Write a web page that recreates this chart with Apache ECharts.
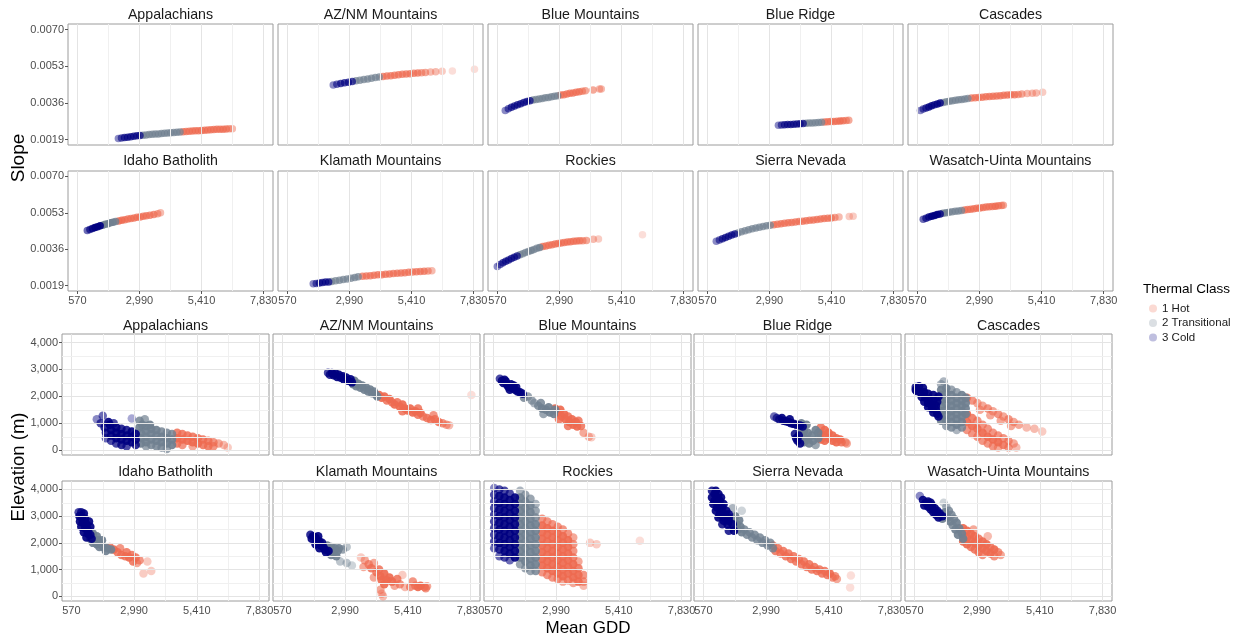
<!DOCTYPE html>
<html><head><meta charset="utf-8">
<script src="https://cdn.jsdelivr.net/npm/echarts@6.0.0/dist/echarts.min.js"></script>
<style>html,body{margin:0;padding:0;background:#fff}#c{width:1244px;height:641px}</style>
</head><body><div id="c"></div>
<script>
const regions = ['Appalachians','AZ/NM Mountains','Blue Mountains','Blue Ridge','Cascades','Idaho Batholith','Klamath Mountains','Rockies','Sierra Nevada','Wasatch-Uinta Mountains'];
const classNames = ['1 Hot','2 Transitional','3 Cold'];
const classColors = ['#EE6A50','#708090','#000080'];
const gddTicks = [570,2990,5410,7830];
const slopeTicks = [0.0019,0.0036,0.0053,0.0070];
const elevTicks = [0,1000,2000,3000,4000];

// [mean GDD, slope, thermal class]
const slopeAppalachians = [
[2170,0.00195,3],[2290,0.00197,3],[2410,0.00199,3],[2530,0.00201,3],[2650,0.00203,3],[2770,0.00205,3],[2890,0.00207,3],[3010,0.00209,3],
[3130,0.00210,2],[3250,0.00211,2],[3370,0.00213,2],[3490,0.00214,2],[3610,0.00215,2],[3730,0.00216,2],[3850,0.00218,2],[3970,0.00219,2],[4090,0.00220,2],[4210,0.00221,2],[4330,0.00222,2],[4450,0.00224,2],[4570,0.00225,2],
[4690,0.00226,1],[4810,0.00227,1],[4930,0.00228,1],[5050,0.00229,1],[5170,0.00230,1],[5290,0.00231,1],[5410,0.00232,1],[5530,0.00233,1],[5650,0.00234,1],[5770,0.00235,1],[5890,0.00236,1],[6010,0.00237,1],[6130,0.00237,1],[6250,0.00238,1],[6370,0.00239,1],[6490,0.00240,1],[6610,0.00240,1]];
const slopeAZNM = [
[2360,0.00443,3],[2500,0.00446,3],[2650,0.00450,3],[2800,0.00453,3],[2950,0.00456,3],[3100,0.00459,3],
[3250,0.00462,2],[3400,0.00465,2],[3550,0.00468,2],[3700,0.00471,2],[3850,0.00474,2],[4000,0.00477,2],[4150,0.00480,2],
[4300,0.00482,1],[4450,0.00484,1],[4600,0.00486,1],[4750,0.00488,1],[4900,0.00490,1],[5050,0.00492,1],[5200,0.00494,1],[5350,0.00495,1],[5500,0.00497,1],[5650,0.00498,1],[5800,0.00500,1],[5950,0.00501,1],[6150,0.00503,1],[6350,0.00504,1],[6600,0.00506,1],[7000,0.00508,1],[7860,0.00516,1]];
const slopeBlueMountains = [
[880,0.00325,3],[1000,0.00332,3],[1120,0.00339,3],[1240,0.00345,3],[1360,0.00351,3],[1480,0.00356,3],[1600,0.00361,3],[1720,0.00366,3],[1840,0.00370,3],
[1960,0.00373,2],[2080,0.00375,2],[2200,0.00378,2],[2320,0.00380,2],[2440,0.00383,2],[2560,0.00385,2],[2680,0.00388,2],[2800,0.00391,2],[2920,0.00393,2],
[3040,0.00396,1],[3160,0.00398,1],[3280,0.00401,1],[3400,0.00404,1],[3520,0.00406,1],[3640,0.00409,1],[3760,0.00411,1],[3880,0.00414,1],[4000,0.00416,1],[4300,0.00420,1],[4550,0.00424,1],[4620,0.00424,1]];
const slopeBlueRidge = [
[3340,0.00256,3],[3460,0.00257,3],[3580,0.00258,3],[3700,0.00259,3],[3820,0.00260,3],[3940,0.00261,3],[4060,0.00262,3],[4180,0.00263,3],[4300,0.00264,3],
[4420,0.00265,2],[4540,0.00266,2],[4660,0.00267,2],[4780,0.00268,2],[4900,0.00269,2],[5020,0.00270,2],
[5140,0.00271,1],[5260,0.00272,1],[5380,0.00273,1],[5500,0.00274,1],[5620,0.00275,1],[5740,0.00276,1],[5860,0.00277,1],[5980,0.00278,1],[6080,0.00279,1]];
const slopeCascades = [
[690,0.00325,3],[800,0.00331,3],[910,0.00336,3],[1020,0.00341,3],[1130,0.00346,3],[1240,0.00351,3],[1350,0.00355,3],[1460,0.00359,3],
[1580,0.00362,2],[1700,0.00365,2],[1820,0.00367,2],[1940,0.00370,2],[2060,0.00372,2],[2180,0.00374,2],[2300,0.00376,2],[2420,0.00378,2],[2540,0.00380,2],
[2680,0.00382,1],[2820,0.00383,1],[2960,0.00385,1],[3100,0.00386,1],[3240,0.00388,1],[3380,0.00389,1],[3520,0.00391,1],[3660,0.00392,1],[3800,0.00393,1],[3940,0.00395,1],[4080,0.00396,1],[4220,0.00397,1],[4360,0.00398,1],[4500,0.00399,1],[4640,0.00401,1],[4850,0.00403,1],[5050,0.00405,1],[5200,0.00406,1],[5450,0.00409,1]];
const slopeIdaho = [
[960,0.00447,3],[1060,0.00452,3],[1160,0.00457,3],[1260,0.00461,3],[1360,0.00465,3],[1460,0.00469,3],
[1560,0.00472,2],[1660,0.00476,2],[1760,0.00479,2],[1860,0.00483,2],[1960,0.00486,2],[2060,0.00489,2],
[2180,0.00492,1],[2300,0.00495,1],[2420,0.00498,1],[2540,0.00501,1],[2660,0.00503,1],[2780,0.00506,1],[2900,0.00509,1],[3020,0.00511,1],[3140,0.00514,1],[3260,0.00516,1],[3400,0.00519,1],[3550,0.00522,1],[3700,0.00526,1],[3810,0.00530,1]];
const slopeKlamath = [
[1580,0.00198,3],[1700,0.00200,3],[1820,0.00202,3],[1940,0.00204,3],[2060,0.00206,3],[2180,0.00207,3],
[2300,0.00209,2],[2450,0.00212,2],[2600,0.00215,2],[2750,0.00218,2],[2900,0.00221,2],[3050,0.00224,2],[3200,0.00228,2],[3330,0.00231,2],
[3500,0.00233,1],[3650,0.00235,1],[3800,0.00236,1],[3950,0.00238,1],[4100,0.00240,1],[4250,0.00241,1],[4400,0.00243,1],[4550,0.00244,1],[4700,0.00246,1],[4850,0.00247,1],[5000,0.00249,1],[5150,0.00250,1],[5300,0.00252,1],[5450,0.00253,1],[5600,0.00254,1],[5750,0.00256,1],[5900,0.00257,1],[6050,0.00258,1],[6200,0.00259,1]];
const slopeRockies = [
[570,0.00279,3],[680,0.00288,3],[790,0.00296,3],[900,0.00303,3],[1010,0.00310,3],[1120,0.00316,3],[1230,0.00322,3],[1340,0.00328,3],
[1450,0.00334,2],[1560,0.00339,2],[1670,0.00344,2],[1780,0.00349,2],[1890,0.00354,2],[2000,0.00359,2],[2110,0.00364,2],[2220,0.00368,2],
[2340,0.00372,1],[2460,0.00375,1],[2580,0.00378,1],[2700,0.00381,1],[2820,0.00384,1],[2940,0.00386,1],[3060,0.00389,1],[3180,0.00391,1],[3300,0.00393,1],[3420,0.00395,1],[3540,0.00397,1],[3660,0.00398,1],[3780,0.00399,1],[3900,0.00400,1],[4040,0.00401,1],[4310,0.00406,1],[4510,0.00408,1],[6225,0.00428,1]];
const slopeSierra = [
[920,0.00397,3],[1040,0.00403,3],[1160,0.00409,3],[1280,0.00415,3],[1400,0.00421,3],[1520,0.00426,3],[1640,0.00431,3],
[1760,0.00436,2],[1900,0.00441,2],[2040,0.00446,2],[2180,0.00451,2],[2320,0.00455,2],[2460,0.00459,2],[2600,0.00463,2],[2740,0.00466,2],[2880,0.00469,2],[3020,0.00472,2],
[3160,0.00474,1],[3300,0.00476,1],[3440,0.00479,1],[3580,0.00481,1],[3720,0.00483,1],[3860,0.00485,1],[4000,0.00487,1],[4140,0.00489,1],[4280,0.00491,1],[4420,0.00493,1],[4560,0.00495,1],[4700,0.00497,1],[4840,0.00499,1],[4980,0.00501,1],[5120,0.00503,1],[5260,0.00505,1],[5400,0.00506,1],[5540,0.00508,1],[5700,0.00510,1],[6100,0.00513,1],[6250,0.00514,1]];
const slopeWasatch = [
[800,0.00500,3],[910,0.00505,3],[1020,0.00510,3],[1130,0.00514,3],[1240,0.00518,3],[1350,0.00522,3],[1460,0.00525,3],
[1570,0.00528,2],[1690,0.00530,2],[1810,0.00533,2],[1930,0.00535,2],[2050,0.00537,2],[2170,0.00539,2],[2290,0.00541,2],
[2410,0.00543,1],[2530,0.00545,1],[2650,0.00547,1],[2770,0.00549,1],[2890,0.00551,1],[3010,0.00553,1],[3130,0.00555,1],[3250,0.00557,1],[3370,0.00558,1],[3490,0.00560,1],[3610,0.00561,1],[3730,0.00563,1],[3850,0.00564,1],[3920,0.00565,1]];

// [mean GDD, elevation m, thermal class]
const elevAppalachians = [
[1550,1150,3],[1780,1280,3],[1700,1000,3],[2900,1180,3],[1850,850,3],[1900,650,3],[1900,450,3],[2050,950,3],[2100,750,3],[2100,550,3],[2100,350,3],[2300,850,3],[2300,650,3],[2300,450,3],[2300,250,3],[2500,800,3],[2500,600,3],[2500,400,3],[2500,200,3],[2700,750,3],[2700,550,3],[2700,350,3],[2700,150,3],[2900,700,3],[2900,500,3],[2900,300,3],[3050,600,3],[3050,400,3],[3050,200,3],[2000,1050,3],[2200,1000,3],
[3200,1100,2],[3300,950,2],[3200,850,2],[3250,650,2],[3250,450,2],[3250,250,2],[3450,900,2],[3450,700,2],[3450,500,2],[3450,300,2],[3450,150,2],[3650,800,2],[3650,600,2],[3650,400,2],[3650,200,2],[3850,750,2],[3850,550,2],[3850,350,2],[3850,150,2],[4050,700,2],[4050,500,2],[4050,300,2],[4050,100,2],[4250,650,2],[4250,450,2],[4250,250,2],[4250,50,2],[4450,600,2],[4450,400,2],[4450,200,2],[3400,1150,2],[3600,950,2],
[4650,650,1],[4650,450,1],[4650,250,1],[4850,600,1],[4850,400,1],[4850,200,1],[5050,550,1],[5050,350,1],[5250,500,1],[5250,300,1],[5250,150,1],[5450,450,1],[5450,250,1],[5650,400,1],[5650,200,1],[5850,350,1],[5850,150,1],[6050,300,1],[6050,150,1],[6250,250,1],[6450,200,1],[6600,100,1]];
const elevAZNM = [
[2330,2880,3],[2400,2800,3],[2480,2870,3],[2550,2780,3],[2620,2850,3],[2680,2720,3],[2750,2800,3],[2820,2690,3],[2900,2750,3],[2950,2620,3],[3030,2700,3],[3100,2580,3],[3200,2640,3],[3250,2520,3],
[3300,2450,2],[3350,2580,2],[3420,2380,2],[3500,2470,2],[3580,2320,2],[3650,2400,2],[3730,2250,2],[3800,2330,2],[3880,2180,2],[3950,2260,2],[4030,2120,2],[4100,2180,2],[4180,2060,2],[4230,2000,2],
[4300,2050,1],[4400,1950,1],[4500,2000,1],[4600,1850,1],[4700,1900,1],[4800,1780,1],[4900,1700,1],[5000,1780,1],[5100,1620,1],[5200,1700,1],[5300,1550,1],[5400,1480,1],[5500,1550,1],[5600,1400,1],[5700,1450,1],[5800,1320,1],[5900,1380,1],[6000,1250,1],[6150,1200,1],[6300,1120,1],[6450,1150,1],[6600,1050,1],[6750,1000,1],[6900,950,1],[7000,930,1],[7860,2050,1],[5200,1450,1],[5800,1550,1],[6400,1300,1]];
const elevBlueMountains = [
[820,2650,3],[900,2580,3],[950,2500,3],[1050,2550,3],[1100,2420,3],[1150,2350,3],[1250,2450,3],[1300,2300,3],[1400,2250,3],[1450,2350,3],[1500,2180,3],[1600,2150,3],[1700,2100,3],[1350,2400,3],[1000,2620,3],[1200,2250,3],
[1750,1950,2],[1900,2000,2],[2050,1850,2],[2150,1750,2],[2300,1650,2],[2400,1750,2],[2450,1550,2],[2600,1500,2],[2700,1600,2],[2750,1400,2],[2900,1350,2],[2950,1500,2],[2500,1350,2],
[2950,1550,1],[3050,1400,1],[3150,1500,1],[3200,1250,1],[3300,1350,1],[3350,1150,1],[3450,1250,1],[3500,1050,1],[3600,1150,1],[3650,950,1],[3750,1050,1],[3800,880,1],[3950,900,1],[3850,1100,1],[3100,1150,1],[3450,900,1],[4050,650,1],[4250,500,1],[4350,480,1]];
const elevBlueRidge = [
[3300,1250,3],[3400,1200,3],[3500,1150,3],[3600,1200,3],[3650,1100,3],[3750,1080,3],[3850,1050,3],[3950,1000,3],[4050,980,3],[4150,950,3],[4300,920,3],[4400,880,3],[4100,600,3],[4150,450,3],[4200,350,3],[4250,550,3],[3900,1150,3],[4300,250,3],
[4350,800,2],[4450,700,2],[4400,550,2],[4500,450,2],[4450,300,2],[4600,650,2],[4600,400,2],[4650,250,2],[4750,550,2],[4800,350,2],[4900,750,2],[4900,200,2],[5000,450,2],[5000,650,2],[4350,1000,2],[4550,950,2],
[5100,850,1],[5100,600,1],[5100,400,1],[5250,750,1],[5250,550,1],[5250,350,1],[5400,650,1],[5400,450,1],[5550,550,1],[5550,350,1],[5700,450,1],[5700,300,1],[5850,400,1],[5900,300,1],[6050,300,1],[6100,250,1]];
const elevCascades = [
[620,2350,3],[750,2380,3],[900,2320,3],[650,2200,3],[800,2150,3],[950,2150,3],[1100,2100,3],[620,2250,3],[850,1980,3],[1000,1950,3],[1150,1900,3],[1300,1850,3],[950,1800,3],[1100,1750,3],[1250,1700,3],[1400,1650,3],[1100,1600,3],[1250,1550,3],[1400,1500,3],[1300,1400,3],[1450,1350,3],[1450,1800,3],[1500,2000,3],[1300,2050,3],[1500,1250,3],
[1600,2450,2],[1600,2250,2],[1600,2050,2],[1600,1850,2],[1600,1650,2],[1600,1450,2],[1600,1250,2],[1600,1100,2],
[1800,2300,2],[1800,2100,2],[1800,1900,2],[1800,1700,2],[1800,1500,2],[1800,1300,2],[1800,1100,2],[1800,900,2],
[2000,2250,2],[2000,2050,2],[2000,1850,2],[2000,1650,2],[2000,1450,2],[2000,1250,2],[2000,1050,2],[2000,850,2],
[2200,2150,2],[2200,1950,2],[2200,1750,2],[2200,1550,2],[2200,1350,2],[2200,1150,2],[2200,950,2],[2200,750,2],
[2400,2050,2],[2400,1850,2],[2400,1650,2],[2400,1450,2],[2400,1250,2],[2400,1050,2],[2400,850,2],
[2550,1950,2],[2550,1750,2],[2550,1550,2],[2550,1350,2],[1700,2550,2],
[2600,1950,1],[2800,1850,1],[3000,1750,1],[3200,1650,1],[3400,1550,1],[3600,1450,1],[3800,1350,1],[4000,1250,1],[4200,1150,1],[4400,1050,1],[4600,950,1],[4900,850,1],[5200,800,1],[5500,700,1],[3100,1500,1],[3500,1300,1],[3900,1100,1],[4300,900,1],
[2600,1350,1],[2600,1050,1],[2600,750,1],[2800,1200,1],[2800,900,1],[2800,600,1],[3000,1100,1],[3000,800,1],[3000,500,1],[3200,950,1],[3200,650,1],[3200,350,1],[3400,800,1],[3400,500,1],[3400,250,1],[3600,650,1],[3600,400,1],[3600,150,1],[3800,550,1],[3800,300,1],[3800,100,1],[4000,450,1],[4000,200,1],[4200,350,1],[4200,100,1],[4400,250,1],[4500,100,1]];
const elevIdaho = [
[850,3150,3],[950,3150,3],[1050,3100,3],[880,3000,3],[980,2950,3],[1100,2900,3],[900,2800,3],[1000,2750,3],[1150,2700,3],[950,2600,3],[1100,2550,3],[1200,2500,3],[1050,2400,3],[1200,2350,3],[1300,2300,3],[1150,2200,3],[1350,2150,3],[1250,2800,3],[1300,2600,3],
[1250,2300,2],[1400,2350,2],[1300,2150,2],[1450,2150,2],[1600,2100,2],[1400,2000,2],[1550,1950,2],[1700,1950,2],[1650,1850,2],[1800,1850,2],[1950,1800,2],[1900,1700,2],[2100,1750,2],[1550,2250,2],[1750,2100,2],
[2050,1850,1],[2200,1750,1],[2350,1650,1],[2450,1800,1],[2500,1550,1],[2650,1500,1],[2700,1650,1],[2800,1450,1],[2900,1550,1],[2950,1300,1],[3050,1450,1],[3100,1250,1],[3200,1350,1],[3350,850,1],[3650,950,1],[3500,1300,1]];
const elevKlamath = [
[1650,2300,3],[1750,2250,3],[1850,2200,3],[1700,2150,3],[1900,2100,3],[2000,2050,3],[1850,1950,3],[2050,1900,3],[2150,1850,3],[2000,1800,3],[2200,1750,3],[2350,1700,3],[2250,1650,3],[1950,2250,3],[2100,2000,3],
[2300,1900,2],[2450,1850,2],[2600,1800,2],[2750,1800,2],[2400,1750,2],[2550,1650,2],[2700,1700,2],[2900,1750,2],[3050,1850,2],[2800,1300,2],[3050,1250,2],[3250,1150,2],[2450,1550,2],[2650,1500,2],
[3600,1450,1],[3750,1350,1],[3900,1200,1],[3700,1100,1],[4000,1050,1],[4100,1250,1],[4200,900,1],[4300,1000,1],[4100,700,1],[4350,750,1],[4500,850,1],[4400,600,1],[4600,600,1],[4700,700,1],[4500,450,1],[4800,550,1],[4900,400,1],[5100,450,1],[5300,350,1],[5000,650,1],[4350,250,1],[4400,100,1],[4450,0,1],[5500,350,1],[5700,400,1],[5800,350,1],[5900,400,1],[5200,800,1],[5600,550,1],[6050,350,1],[6150,380,1],[6100,300,1]];
const elevRockies = [
[600,4050,3],[600,3800,3],[600,3550,3],[600,3300,3],[600,3050,3],[600,2800,3],[600,2550,3],[600,2300,3],[600,2050,3],[600,1800,3],
[800,4000,3],[800,3750,3],[800,3500,3],[800,3250,3],[800,3000,3],[800,2750,3],[800,2500,3],[800,2250,3],[800,2000,3],[800,1750,3],[800,1500,3],
[1000,3950,3],[1000,3700,3],[1000,3450,3],[1000,3200,3],[1000,2950,3],[1000,2700,3],[1000,2450,3],[1000,2200,3],[1000,1950,3],[1000,1700,3],[1000,1450,3],
[1200,3850,3],[1200,3600,3],[1200,3350,3],[1200,3100,3],[1200,2850,3],[1200,2600,3],[1200,2350,3],[1200,2100,3],[1200,1850,3],[1200,1600,3],[1200,1350,3],
[1400,3700,3],[1400,3450,3],[1400,3200,3],[1400,2950,3],[1400,2700,3],[1400,2450,3],[1400,2200,3],[1400,1950,3],[1400,1700,3],[1400,1450,3],
[1600,3950,2],[1600,3700,2],[1600,3450,2],[1600,3200,2],[1600,2950,2],[1600,2700,2],[1600,2450,2],[1600,2200,2],[1600,1950,2],[1600,1700,2],[1600,1450,2],[1600,1200,2],
[1800,3800,2],[1800,3550,2],[1800,3300,2],[1800,3050,2],[1800,2800,2],[1800,2550,2],[1800,2300,2],[1800,2050,2],[1800,1800,2],[1800,1550,2],[1800,1300,2],[1800,1050,2],
[2000,3650,2],[2000,3400,2],[2000,3150,2],[2000,2900,2],[2000,2650,2],[2000,2400,2],[2000,2150,2],[2000,1900,2],[2000,1650,2],[2000,1400,2],[2000,1150,2],[2000,950,2],
[2200,3450,2],[2200,3200,2],[2200,2950,2],[2200,2700,2],[2200,2450,2],[2200,2200,2],[2200,1950,2],[2200,1700,2],[2200,1450,2],[2200,1200,2],[2200,950,2],
[2450,2900,1],[2450,2650,1],[2450,2400,1],[2450,2150,1],[2450,1900,1],[2450,1650,1],[2450,1400,1],[2450,1150,1],[2450,900,1],
[2650,2800,1],[2650,2550,1],[2650,2300,1],[2650,2050,1],[2650,1800,1],[2650,1550,1],[2650,1300,1],[2650,1050,1],[2650,800,1],
[2850,2700,1],[2850,2450,1],[2850,2200,1],[2850,1950,1],[2850,1700,1],[2850,1450,1],[2850,1200,1],[2850,950,1],[2850,700,1],
[3050,2600,1],[3050,2350,1],[3050,2100,1],[3050,1850,1],[3050,1600,1],[3050,1350,1],[3050,1100,1],[3050,850,1],[3050,650,1],
[3250,2500,1],[3250,2250,1],[3250,2000,1],[3250,1750,1],[3250,1500,1],[3250,1250,1],[3250,1000,1],[3250,750,1],[3250,550,1],
[3450,2350,1],[3450,2100,1],[3450,1850,1],[3450,1600,1],[3450,1350,1],[3450,1100,1],[3450,850,1],[3450,600,1],
[3650,2200,1],[3650,1950,1],[3650,1700,1],[3650,1450,1],[3650,1200,1],[3650,950,1],[3650,700,1],[3650,500,1],
[3850,1300,1],[3850,1050,1],[3850,800,1],[3850,550,1],[4050,800,1],[4050,550,1],[4050,400,1],
[4300,2000,1],[4550,1950,1],[6220,2080,1]];
const elevSierra = [
[900,3950,3],[1050,3950,3],[900,3700,3],[1100,3700,3],[1250,3700,3],[950,3450,3],[1150,3450,3],[1350,3450,3],[1050,3200,3],[1250,3200,3],[1450,3200,3],[1150,2950,3],[1350,2950,3],[1550,2950,3],[1300,2700,3],[1500,2700,3],[1700,2700,3],[1550,2450,3],[1750,2450,3],
[1000,3825,3],[1150,3825,3],[1000,3575,3],[1200,3575,3],[1100,3325,3],[1300,3325,3],[1200,3075,3],[1400,3075,3],[1550,3075,3],[1350,2825,3],[1550,2825,3],
[1650,2750,2],[1750,2600,2],[1850,2700,2],[1900,2500,2],[2000,2600,2],[2050,2400,2],[2150,2500,2],[2250,2300,2],[2350,2400,2],[2450,2200,2],[2550,2300,2],[2650,2100,2],[2750,2200,2],[2850,2000,2],[2950,2100,2],[3050,1900,2],[3150,2000,2],[3250,1800,2],[1700,3300,2],[1800,3000,2],[2050,3200,2],[1950,2850,2],
[3250,1900,1],[3350,1700,1],[3450,1800,1],[3550,1600,1],[3650,1700,1],[3750,1500,1],[3850,1600,1],[3950,1400,1],[4050,1500,1],[4150,1300,1],[4250,1400,1],[4350,1200,1],[4450,1300,1],[4550,1100,1],[4650,1200,1],[4750,1000,1],[4850,1100,1],[4950,950,1],[5050,1000,1],[5150,850,1],[5250,950,1],[5350,800,1],[5450,850,1],[5550,700,1],[5650,750,1],[5720,650,1],[6260,780,1],[6230,330,1]];
const elevWasatch = [
[780,3750,3],[900,3600,3],[1000,3500,3],[1100,3550,3],[950,3400,3],[1100,3350,3],[1250,3400,3],[1200,3250,3],[1350,3300,3],[1300,3150,3],[1450,3200,3],[1400,3050,3],[1550,3100,3],[1650,3000,3],[1500,2950,3],[1200,3500,3],
[1700,3500,2],[1800,3350,2],[1900,3200,2],[1750,3150,2],[1850,2950,2],[2000,3050,2],[1950,2800,2],[2100,2900,2],[2050,2650,2],[2200,2750,2],[2150,2500,2],[2300,2550,2],[2250,2300,2],[2400,2350,2],[2450,2150,2],[1650,2900,2],
[2450,2550,1],[2450,2300,1],[2450,2050,1],[2600,2450,1],[2600,2200,1],[2600,1950,1],[2750,2350,1],[2750,2100,1],[2750,1850,1],[2900,2250,1],[2900,2000,1],[2900,1750,1],[3050,2150,1],[3050,1900,1],[3050,1650,1],[3200,2050,1],[3200,1800,1],[3200,1550,1],[3350,1950,1],[3350,1700,1],[3500,1850,1],[3500,1600,1],[3650,1750,1],[3650,1500,1],[3800,1650,1],[3900,1550,1],[3400,2250,1],[2850,2500,1]];

const slopeSets = [slopeAppalachians, slopeAZNM, slopeBlueMountains, slopeBlueRidge, slopeCascades, slopeIdaho, slopeKlamath, slopeRockies, slopeSierra, slopeWasatch];
const elevSets = [elevAppalachians, elevAZNM, elevBlueMountains, elevBlueRidge, elevCascades, elevIdaho, elevKlamath, elevRockies, elevSierra, elevWasatch];

const FONT = '"Liberation Sans", Arial, Helvetica, sans-serif';
const X_MIN = 207, X_MAX = 8193;
const sections = [
  {sets: slopeSets, yTicks: slopeTicks, yMin: 0.001645, yMax: 0.007255, lefts: [68,278,488,698,908], w: 205, tops: [24,171], hs: [121,120], fmt: v => v.toFixed(4), size: 7.5, titleY: [15,161]},
  {sets: elevSets, yTicks: elevTicks, yMin: -175, yMax: 4315, lefts: [62,273,484,694,905], w: 207, tops: [334,481], hs: [121,120], fmt: v => v.toLocaleString('en-US'), size: 8.5, titleY: [326,472]}
];
const mids = a => a.slice(1).map((v, i) => (v + a[i]) / 2);
const majorLine = {color: '#E4E4E4', width: 1, type: 'solid'};
const minorLine = {color: '#F0F0F0', width: 1, type: 'solid'};

// Opacity from local overlap (emulates alpha blending of many overlapping marks)
function withOpacity(pts, sec, h) {
  const pxX = sec.w / (X_MAX - X_MIN), pxY = h / (sec.yMax - sec.yMin);
  return pts.map(p => {
    let n = 0;
    pts.forEach(q => {
      if (q === p) return;
      const dx = (q[0] - p[0]) * pxX, dy = (q[1] - p[1]) * pxY;
      if (dx * dx + dy * dy < 81) n++;
    });
    return {p, op: Math.min(0.92, 0.22 + 0.12 * n)};
  });
}

const grid = [], xAxis = [], yAxis = [], series = [], graphic = [];
sections.forEach((sec, s) => {
  sec.sets.forEach((pts, i) => {
    const row = Math.floor(i / 5), col = i % 5, g = s * 10 + i;
    const left = sec.lefts[col], top = sec.tops[row], h = sec.hs[row];
    grid.push({left, top, width: sec.w, height: h, show: true, borderColor: '#9c9c9c', borderWidth: 1, backgroundColor: '#fff'});
    xAxis.push({gridIndex: g, type: 'value', min: X_MIN, max: X_MAX,
      axisLine: {show: false}, splitLine: {show: false},
      axisTick: {show: row === 1, customValues: gddTicks, length: 3, lineStyle: {color: '#555'}},
      axisLabel: {show: row === 1, customValues: gddTicks, formatter: v => v.toLocaleString('en-US'), fontSize: 11, color: '#4d4d4d', fontFamily: FONT, margin: 4}});
    yAxis.push({gridIndex: g, type: 'value', min: sec.yMin, max: sec.yMax,
      axisLine: {show: false}, splitLine: {show: false},
      axisTick: {show: col === 0, customValues: sec.yTicks, length: 3, lineStyle: {color: '#555'}},
      axisLabel: {show: col === 0, customValues: sec.yTicks, formatter: sec.fmt, fontSize: 11, color: '#4d4d4d', fontFamily: FONT, margin: 4}});
    const lines = [
      ...gddTicks.map(v => ({xAxis: v, lineStyle: majorLine})),
      ...mids(gddTicks).map(v => ({xAxis: v, lineStyle: minorLine})),
      ...sec.yTicks.map(v => ({yAxis: v, lineStyle: majorLine})),
      ...mids(sec.yTicks).map(v => ({yAxis: v, lineStyle: minorLine}))
    ];
    series.push({type: 'scatter', xAxisIndex: g, yAxisIndex: g, data: [], silent: true, z: 1,
      markLine: {silent: true, symbol: ['none', 'none'], label: {show: false}, animation: false, data: lines}});
    const shaded = withOpacity(pts, sec, h);
    [1, 2, 3].forEach(c => {
      series.push({type: 'scatter', name: classNames[c - 1], xAxisIndex: g, yAxisIndex: g,
        data: shaded.filter(d => d.p[2] === c).map(d => ({value: [d.p[0], d.p[1]], itemStyle: {opacity: d.op}})),
        symbol: 'circle', symbolSize: sec.size,
        itemStyle: {color: classColors[c - 1]},
        emphasis: {disabled: true}, silent: true, z: 3});
    });
    graphic.push({type: 'text', x: left + sec.w / 2, y: sec.titleY[row],
      style: {text: regions[i], font: '14.2px ' + FONT, fill: '#1a1a1a', textAlign: 'center', textVerticalAlign: 'middle', align: 'center', verticalAlign: 'middle'}});
  });
});
graphic.push({type: 'text', x: 19, y: 158, rotation: Math.PI / 2,
  style: {text: 'Slope', font: '19px ' + FONT, fill: '#000', textAlign: 'center', textVerticalAlign: 'middle', align: 'center', verticalAlign: 'middle'}});
graphic.push({type: 'text', x: 19, y: 467, rotation: Math.PI / 2,
  style: {text: 'Elevation (m)', font: '18.5px ' + FONT, fill: '#000', textAlign: 'center', textVerticalAlign: 'middle', align: 'center', verticalAlign: 'middle'}});
graphic.push({type: 'text', x: 588, y: 628,
  style: {text: 'Mean GDD', font: '17px ' + FONT, fill: '#000', textAlign: 'center', textVerticalAlign: 'middle', align: 'center', verticalAlign: 'middle'}});
graphic.push({type: 'text', x: 1143, y: 289,
  style: {text: 'Thermal Class', font: '13.5px ' + FONT, fill: '#000', textAlign: 'left', textVerticalAlign: 'middle', align: 'left', verticalAlign: 'middle'}});

const chart = echarts.init(document.getElementById('c'), null, {renderer: 'canvas'});
chart.setOption({
  animation: false,
  backgroundColor: '#fff',
  grid, xAxis, yAxis, series, graphic,
  legend: {data: classNames, orient: 'vertical', left: 1144, top: 297, icon: 'circle', itemWidth: 8, itemHeight: 8, itemGap: 1.5,
    selectedMode: false, itemStyle: {opacity: 0.25},
    textStyle: {fontSize: 11.5, color: '#1a1a1a', fontFamily: FONT, lineHeight: 13}}
});
</script></body></html>
